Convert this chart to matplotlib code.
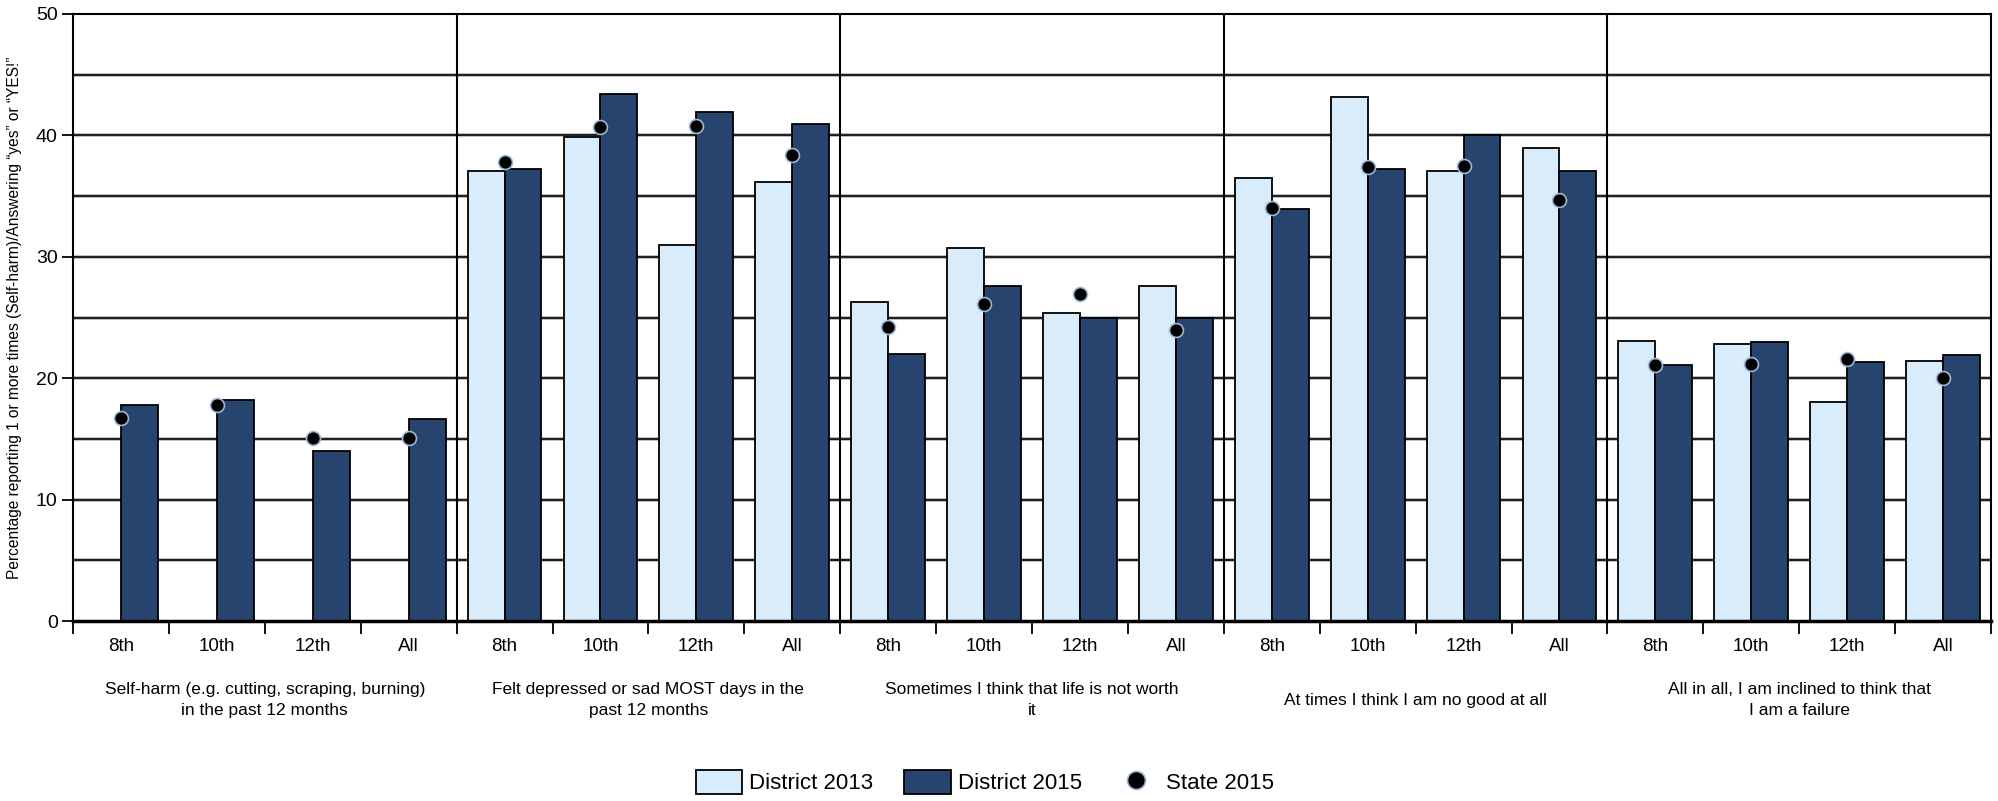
import matplotlib
matplotlib.use("Agg")
import matplotlib.pyplot as plt
from matplotlib.patches import Patch
from matplotlib.lines import Line2D
import numpy as np

# === DATA ===
questions = [
    "Self-harm (e.g. cutting, scraping, burning)\nin the past 12 months",
    "Felt depressed or sad MOST days in the\npast 12 months",
    "Sometimes I think that life is not worth\nit",
    "At times I think I am no good at all",
    "All in all, I am inclined to think that\nI am a failure",
]
grades = ["8th", "10th", "12th", "All"]

district_2013 = [np.nan, np.nan, np.nan, np.nan,
                 37.1, 39.9, 31.0, 36.2,
                 26.3, 30.7, 25.4, 27.6,
                 36.5, 43.2, 37.1, 39.0,
                 23.1, 22.8, 18.0, 21.4]
district_2015 = [17.8, 18.2, 14.0, 16.6,
                 37.2, 43.4, 41.9, 40.9,
                 22.0, 27.6, 25.0, 25.0,
                 33.9, 37.2, 40.0, 37.1,
                 21.1, 23.0, 21.3, 21.9]
state_2015 = [16.7, 17.8, 15.1, 15.1,
              37.8, 40.7, 40.8, 38.4,
              24.2, 26.1, 26.9, 24.0,
              34.0, 37.4, 37.5, 34.7,
              21.1, 21.2, 21.6, 20.0]

LIGHT = "#d9ecfc"
DARK = "#26446e"
FONT = ["Liberation Sans", "DejaVu Sans"]

fig = plt.figure(figsize=(19.99, 8.01), dpi=100)
ax = fig.add_axes([73 / 1999, 1 - 621 / 801, (1991 - 73) / 1999, (621 - 14) / 801])

n = len(district_2015)
x = np.arange(n)
w = 0.385

# gridlines behind everything
for yv in np.arange(5, 50, 5):
    ax.axhline(yv, color="#b0b0b0", lw=2.6, zorder=0)
    ax.axhline(yv, color="#111111", lw=1.3, zorder=0.5)

# group separators
for g in range(1, len(questions)):
    ax.axvline(g * 4 - 0.5, color="black", lw=1.5, zorder=1)

ax.bar(x - w / 2, district_2013, width=w, color=LIGHT, edgecolor="black", lw=1.3, zorder=2)
ax.bar(x + w / 2, district_2015, width=w, color=DARK, edgecolor="black", lw=1.3, zorder=2)
ax.plot(x, state_2015, "o", ms=10, color="black", mec="#9fb8d8", mew=1.2, zorder=3)

ax.set_xlim(-0.5, n - 0.5)
ax.set_ylim(0, 50)

for s in ["top", "right", "left"]:
    ax.spines[s].set_linewidth(1.5)
ax.spines["bottom"].set_linewidth(2.5)

ax.set_yticks(np.arange(0, 51, 10))
ax.tick_params(axis="y", length=8, width=1.3, pad=3, labelsize=14)
for lab in ax.get_yticklabels():
    lab.set_family(FONT)

# category boundaries as major ticks, grade names as minor labels
ax.set_xticks(np.arange(-0.5, n, 1.0))
ax.set_xticklabels([])
ax.set_xticks(x, minor=True)
ax.set_xticklabels(grades * len(questions), minor=True)
ax.tick_params(axis="x", which="major", length=9, width=1.3)
ax.tick_params(axis="x", which="minor", length=0, pad=12, labelsize=13.5)
for lab in ax.get_xticklabels(minor=True):
    lab.set_family(FONT)

for g, q in enumerate(questions):
    ax.text(g * 4 + 1.5, -79 / 607, q, transform=ax.get_xaxis_transform(),
            ha="center", va="center", fontsize=12.5, family=FONT, linespacing=1.45)

ax.set_ylabel("Percentage reporting 1 or more times (Self-harm)/Answering \u201cyes\u201d or \u201cYES!\u201d",
              fontsize=11.2, family=FONT, labelpad=10)

handles = [
    Patch(facecolor=LIGHT, edgecolor="black", lw=1.3, label="District 2013"),
    Patch(facecolor=DARK, edgecolor="black", lw=1.3, label="District 2015"),
    Line2D([], [], ls="none", marker="o", ms=13, color="black", mec="#9fb8d8", mew=1.2, label="State 2015"),
]
fig.legend(handles=handles, loc="center", bbox_to_anchor=(0.4927, 1 - 782 / 801), ncol=3,
           frameon=False, prop={"family": FONT, "size": 16},
           handlelength=2.1, handleheight=1.3, handletextpad=0.3, columnspacing=1.4)

fig.savefig("out.png", dpi=100, facecolor="white")
